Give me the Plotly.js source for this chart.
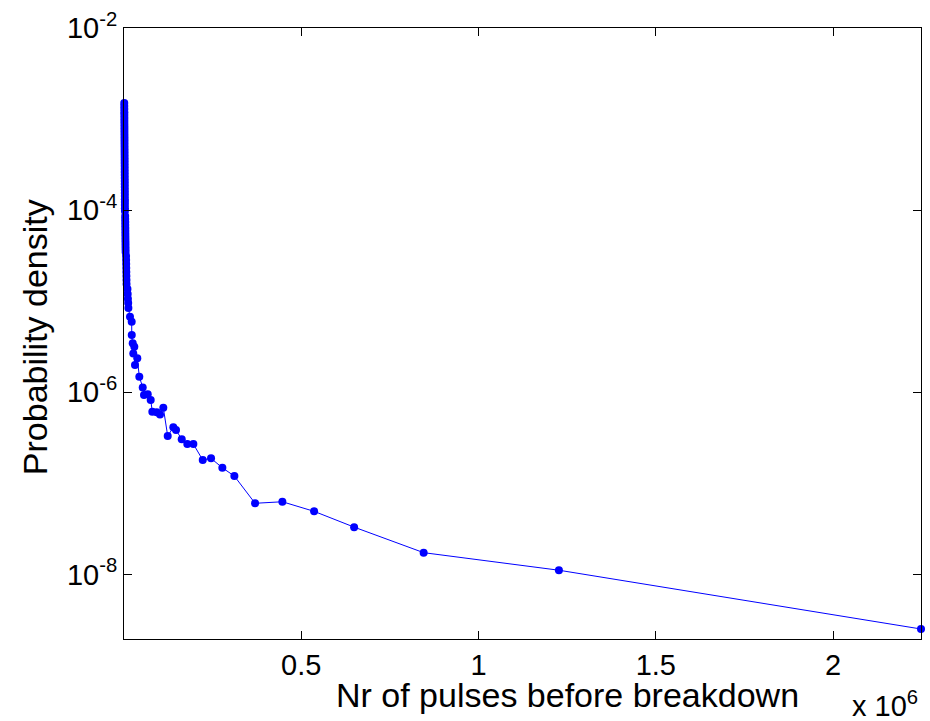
<!DOCTYPE html>
<html>
<head>
<meta charset="utf-8">
<script src="https://cdn.plot.ly/plotly-3.0.1.min.js"></script>
<style>html,body{margin:0;padding:0;background:#fff;}#chart{width:930px;height:721px;}</style>
</head>
<body>
<div id="chart"></div>
<script>
// Number of pulses before breakdown (x) and estimated probability density (y)
var pulses = [
  800, 850, 900, 950, 1000, 1050, 1100, 1150, 1200, 1250,
  1300, 1350, 1400, 1450, 1500, 1550, 1600, 1650, 1700, 1750,
  1800, 1850, 1900, 1950, 2000, 2050, 2100, 2150, 2200, 2250,
  2300, 2350, 2400, 2450, 2500, 2550, 2600,
  3300, 3400, 3500, 3600, 3700, 3800, 3900, 4000, 4100, 4200, 4300, 4400, 4500,
  5800, 6000, 6200, 6400, 6600, 6800, 7000, 7200,
  9800, 10400, 11000, 11800, 12400,
  16900, 21700, 21900, 24600, 26200, 29100, 31000, 37500, 43200, 52800,
  56400, 66900, 75300, 79900, 92300, 101600, 110900, 123300, 139100, 146700,
  162800, 178600, 195600, 222100, 245500, 277400, 311300, 369700, 446700, 536200,
  649100, 845200, 1226700, 2248000
];
var density = [
  1.50e-3, 1.39e-3, 1.29e-3, 1.19e-3, 1.11e-3, 1.03e-3, 9.53e-4, 8.83e-4, 8.18e-4, 7.59e-4,
  7.03e-4, 6.52e-4, 6.04e-4, 5.60e-4, 5.19e-4, 4.81e-4, 4.46e-4, 4.13e-4, 3.83e-4, 3.55e-4,
  3.29e-4, 3.05e-4, 2.83e-4, 2.62e-4, 2.43e-4, 2.25e-4, 2.09e-4, 1.94e-4, 1.79e-4, 1.66e-4,
  1.54e-4, 1.43e-4, 1.32e-4, 1.23e-4, 1.14e-4, 1.05e-4, 9.77e-5,
  8.61e-5, 7.98e-5, 7.40e-5, 6.86e-5, 6.36e-5, 5.89e-5, 5.47e-5, 5.07e-5, 4.70e-5, 4.35e-5, 4.04e-5, 3.74e-5, 3.47e-5,
  3.13e-5, 2.83e-5, 2.56e-5, 2.31e-5, 2.09e-5, 1.89e-5, 1.71e-5, 1.54e-5,
  1.36e-5, 1.20e-5, 1.06e-5, 9.55e-6, 8.41e-6,
  6.75e-6, 5.94e-6, 4.25e-6, 3.44e-6, 2.67e-6, 3.16e-6, 1.99e-6, 2.36e-6, 1.48e-6, 1.13e-6,
  9.31e-7, 9.48e-7, 8.21e-7, 6.10e-7, 6.01e-7, 5.71e-7, 6.76e-7, 3.30e-7, 4.12e-7, 3.85e-7,
  3.04e-7, 2.70e-7, 2.70e-7, 1.80e-7, 1.88e-7, 1.48e-7, 1.20e-7, 6.03e-8, 6.27e-8, 4.92e-8,
  3.30e-8, 1.73e-8, 1.11e-8, 2.51e-9
];
var xTickVals = [500000, 1000000, 1500000, 2000000];
var xTickText = ['0.5', '1', '1.5', '2'];
var yTickVals = [1e-8, 1e-6, 1e-4, 1e-2];
var yTickText = ['10<sup>-8</sup>', '10<sup>-6</sup>', '10<sup>-4</sup>', '10<sup>-2</sup>'];

var family = 'Liberation Sans, Arial, sans-serif';
var tickFont = {family: family, size: 29, color: '#000'};
var titleFont = {family: family, size: 34, color: '#000'};

var trace = {
  x: pulses, y: density, type: 'scatter', mode: 'lines+markers',
  line: {color: '#0000ff', width: 1},
  marker: {color: '#0000ff', size: 8},
  cliponaxis: false, hoverinfo: 'skip'
};

var layout = {
  width: 930, height: 721,
  margin: {l: 124, r: 9, t: 28, b: 82, pad: 0},
  paper_bgcolor: '#fff', plot_bgcolor: '#fff',
  showlegend: false,
  font: tickFont,
  xaxis: {
    range: [0, 2248000], tickvals: xTickVals, ticktext: xTickText,
    ticks: 'inside', ticklen: 8, tickcolor: '#000', tickwidth: 1,
    showline: true, linecolor: '#000', linewidth: 1, mirror: 'ticks',
    showgrid: false, zeroline: false, tickfont: tickFont
  },
  yaxis: {
    type: 'log', range: [-8.71, -2], tickvals: yTickVals, ticktext: yTickText,
    ticks: 'inside', ticklen: 8, tickcolor: '#000', tickwidth: 1,
    showline: true, linecolor: '#000', linewidth: 1, mirror: 'ticks',
    showgrid: false, zeroline: false, tickfont: tickFont
  },
  annotations: [
    {text: 'Nr of pulses before breakdown', xref: 'paper', yref: 'paper', x: 0.557, y: -0.092,
     xanchor: 'center', yanchor: 'middle', showarrow: false, font: titleFont},
    {text: 'Probability density', xref: 'paper', yref: 'paper', x: -0.1117, y: 0.494,
     xanchor: 'center', yanchor: 'middle', textangle: -90, showarrow: false, font: titleFont},
    {text: 'x 10<sup>6</sup>', xref: 'paper', yref: 'paper', x: 0.999, y: -0.106,
     xanchor: 'right', yanchor: 'middle', showarrow: false, font: tickFont}
  ]
};

Plotly.newPlot('chart', [trace], layout, {staticPlot: true, displayModeBar: false});
</script>
</body>
</html>
